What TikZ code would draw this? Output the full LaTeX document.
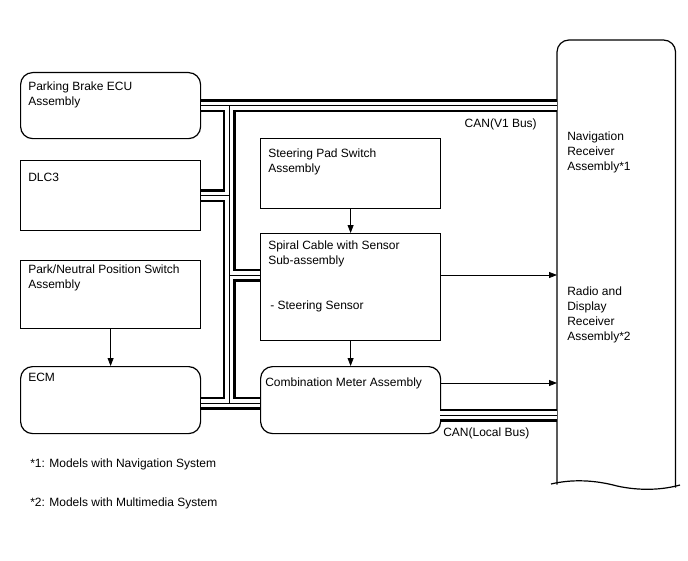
\documentclass[tikz,border=0pt]{standalone}
\usepackage{fontspec}
\setmainfont{Liberation Sans}
\usetikzlibrary{arrows.meta}

\tikzset{
  unitbox/.style={draw,line width=.9pt,minimum width=135pt,inner sep=0pt,anchor=north west},
  roundbox/.style={unitbox,rounded corners=9pt},
  txt/.style={inner sep=0pt,anchor=north west,align=left,font=\fontsize{9pt}{11.25pt}\selectfont},
}

\begin{document}
\begin{tikzpicture}[x=.75pt,y=-.75pt,>={Triangle[length=6pt,width=4.5pt]}]
        \useasboundingbox (0,0) rectangle (688,560);
        % left column
        \node[roundbox,minimum height=49.5pt] (pbecu) at (20,72) {};
        \node[unitbox,minimum height=52.5pt] (dlc) at (20,160) {};
        \node[unitbox,minimum height=51pt] (pnp) at (20,260) {};
        \node[roundbox,minimum height=50.25pt] (ecm) at (20,366) {};
        % middle column
        \node[unitbox,minimum height=52.5pt] (spsw) at (260,138) {};
        \node[unitbox,minimum height=80.25pt] (spiral) at (260,233) {};
        \node[roundbox,minimum height=50.25pt] (cmeter) at (260,366) {};
        % receiver
        \node[inner sep=0pt,minimum width=88.5pt,minimum height=333.75pt,anchor=north west] (nav) at (557,40) {};
        \draw[line width=.9pt,rounded corners=9pt]
                ([yshift=.75pt]nav.south west) -- (nav.north west) -- (nav.north east) -- ([yshift=-1.5pt]nav.south east);
        \draw[line width=.9pt] (551,484) .. controls (572,479) and (595,480) .. (617,486)
                .. controls (640,491) and (662,490) .. (680,485);
        % texts
        \node[txt] (pbecu-t) at (28,81.5) {Parking Brake ECU\\Assembly};
        \node[txt] (dlc-t) at (28,172.5) {DLC3};
        \node[txt] (pnp-t) at (28,264.5) {Park/Neutral Position Switch\\Assembly};
        \node[txt] (ecm-t) at (28,372.5) {ECM};
        \node[txt] (spsw-t) at (268,148.5) {Steering Pad Switch\\Assembly};
        \node[txt] (spiral-t) at (268,240.5) {Spiral Cable with Sensor\\Sub-assembly};
        \node[txt] (sensor-t) at (270,300.5) {- Steering Sensor};
        \node[txt] (cmeter-t) at (265,377.5) {Combination Meter Assembly};
        \node[txt] (nav-t) at (567,131.5) {Navigation\\Receiver\\Assembly*1};
        \node[txt] (radio-t) at (567,286.5) {Radio and\\Display\\Receiver\\Assembly*2};
        \node[txt,anchor=east] (v1-t) at (537,124) {CAN(V1 Bus)};
        \node[txt,anchor=west] (local-t) at (443,433) {CAN(Local Bus)};
        \node[txt] (note1) at (30,458.5) {*1: Models with Navigation System};
        \node[txt] (note2) at (30,497.5) {*2: Models with Multimedia System};
        % can buses
        \coordinate (jtop) at (229,105);
        \coordinate (jbot) at (229,403);
        \coordinate (jspi) at (229,275);
        \coordinate (jloc) at (440,415);
        \foreach \w/\c in {9.75pt/black,6pt/white,.6pt/black}
          \draw[line width=\w,\c]
                (pbecu.east) -- (pbecu.east -| nav.west)
                (jtop) -- (jbot)
                (dlc.east) -- (dlc.east -| jtop)
                (jspi) -- (jspi -| spiral.west)
                (ecm.east |- jbot) -- (cmeter.west |- jbot)
                (jloc) -- (jloc -| nav.west);
        % signals
        \coordinate (spi-o) at (440,275);
        \coordinate (cm-o) at (440,383);
        \draw[->,line width=.6pt] (spsw.south) -- (spiral.north);
        \draw[->,line width=.6pt] (pnp.south) -- (ecm.north);
        \draw[->,line width=.6pt] (spiral.south) -- (cmeter.north);
        \draw[->,line width=.6pt] (spi-o) -- (spi-o -| nav.west);
        \draw[->,line width=.6pt] (cm-o) -- (cm-o -| nav.west);
\end{tikzpicture}
\end{document}
